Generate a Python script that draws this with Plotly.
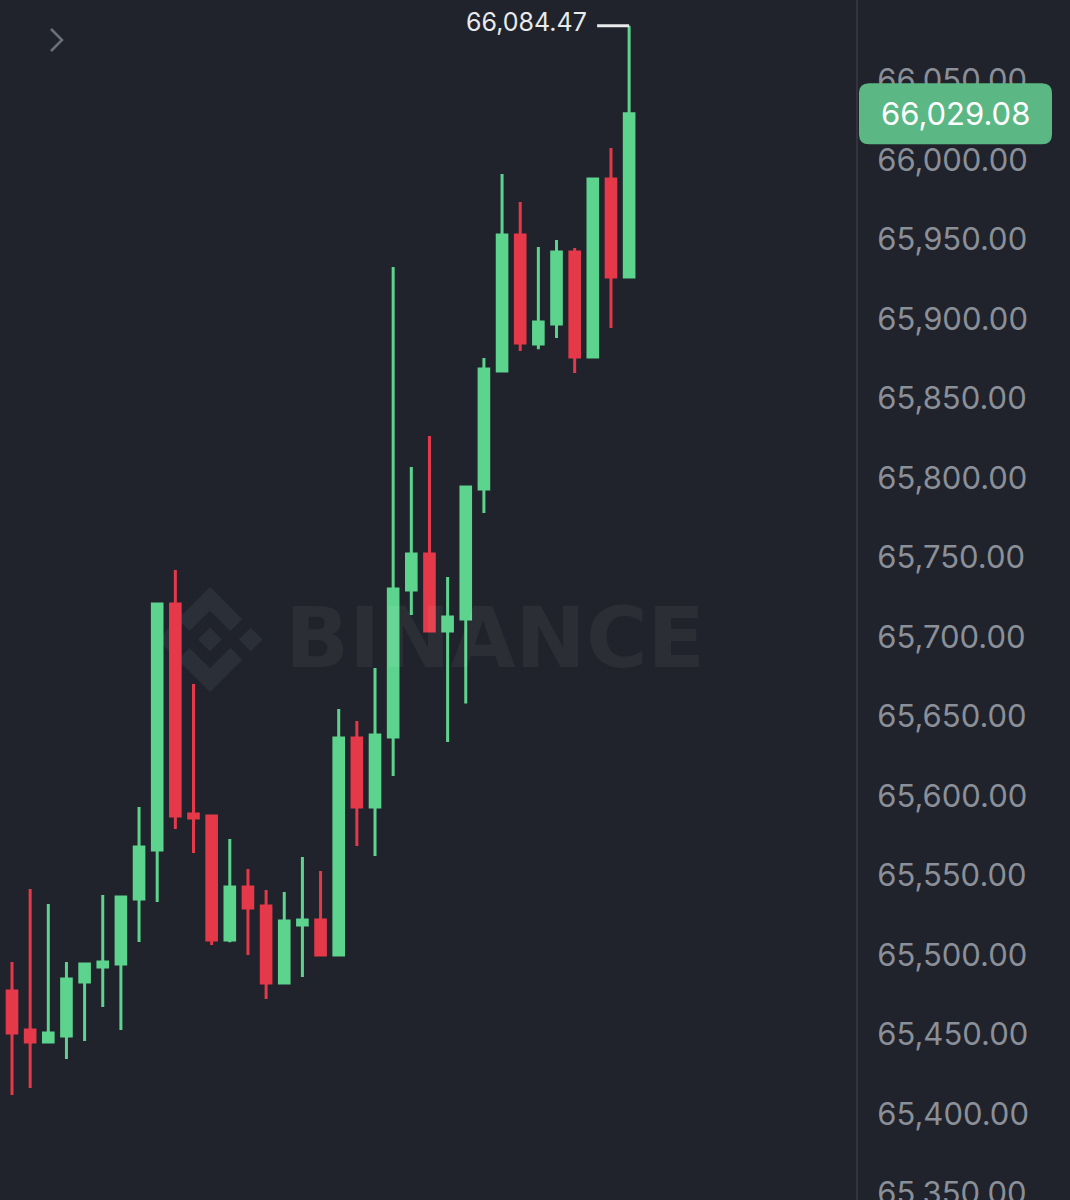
import plotly.graph_objects as go

# ---- data ----
candle_idx = list(range(35))
opens = [65477.4, 65452.8, 65445.3, 65449.1, 65483.0, 65492.5, 65494.3, 65535.2, 65566.0, 65720.8,
         65588.7, 65587.4, 65509.4, 65542.8, 65530.8, 65482.4, 65518.9, 65522.0, 65500.0, 65636.5,
         65593.1, 65637.1, 65729.6, 65752.2, 65703.8, 65711.3, 65793.1, 65867.3, 65952.8, 65884.3,
         65896.9, 65942.1, 65876.1, 65988.1, 65926.4]
highs = [65495.6, 65541.5, 65532.1, 65495.6, 65494.3, 65537.7, 65536.5, 65593.1, 65720.8, 65742.1,
         65670.4, 65587.4, 65573.0, 65554.1, 65540.9, 65539.6, 65561.6, 65552.8, 65654.7, 65647.2,
         65680.5, 65932.7, 65806.9, 65826.4, 65737.7, 65794.3, 65875.5, 65991.2, 65973.6, 65945.3,
         65949.7, 65944.7, 65988.1, 66007.5, 66084.47]
lows = [65411.9, 65416.4, 65445.0, 65434.6, 65445.9, 65467.3, 65452.8, 65508.2, 65533.3, 65579.2,
        65564.2, 65506.3, 65508.0, 65500.0, 65472.3, 65482.4, 65486.2, 65500.0, 65500.0, 65568.6,
        65562.3, 65612.6, 65713.8, 65703.8, 65634.0, 65658.2, 65778.0, 65867.3, 65879.9, 65881.0,
        65888.1, 65866.0, 65876.1, 65894.3, 65926.4]
closes = [65450.9, 65445.3, 65450.9, 65484.9, 65494.3, 65495.6, 65536.5, 65567.9, 65720.8, 65587.4,
          65586.2, 65509.4, 65542.8, 65529.6, 65482.4, 65521.4, 65522.0, 65500.0, 65636.5, 65593.1,
          65638.4, 65730.2, 65752.2, 65703.8, 65712.6, 65794.3, 65868.6, 65952.8, 65884.9, 65898.1,
          65942.1, 65876.1, 65988.1, 65926.4, 66029.08]

y_range = [65345.9, 66100.6]
y_tickvals = [65350, 65400, 65450, 65500, 65550, 65600, 65650, 65700, 65750, 65800,
              65850, 65900, 65950, 66000, 66050]

BG = "#20232b"
GREEN = "#5dd48e"
RED = "#e5394a"
BOX_GREEN = "#5bb884"
TICK_COLOR = "#8a8f98"
LOGO_COLOR = "#2b2f37"

fig = go.Figure()
fig.add_trace(go.Candlestick(
    x=candle_idx, open=opens, high=highs, low=lows, close=closes,
    increasing=dict(line=dict(color=GREEN, width=3), fillcolor=GREEN),
    decreasing=dict(line=dict(color=RED, width=3), fillcolor=RED),
    whiskerwidth=0, showlegend=False, hoverinfo="skip",
))

hi_val = max(highs)
hi_idx = highs.index(hi_val)
last_close = closes[-1]

# ---- watermark logo (Binance mark), drawn below candles ----
s = 0.83
def poly(pts):
    d = ""
    for k, (px, py) in enumerate(pts):
        X = (px - 63.3) * s
        Y = -(py - 63.3) * s
        d += ("M" if k == 0 else "L") + f"{X:.2f},{Y:.2f} "
    return d + "Z"

def diamond(cx, cy, h):
    return poly([(cx, cy - h), (cx + h, cy), (cx, cy + h), (cx - h, cy)])

logo_paths = [
    poly([(38.73, 53.2), (63.3, 28.64), (87.89, 53.22), (102.19, 38.92), (63.3, 0), (24.42, 38.9)]),
    poly([(38.73, 73.41), (63.3, 97.97), (87.89, 73.39), (102.19, 87.69), (63.3, 126.6), (24.42, 87.71)]),
    diamond(14.3, 63.3, 14.3),
    diamond(112.3, 63.3, 14.3),
    diamond(63.3, 63.3, 14.5),
]
for p in logo_paths:
    fig.add_shape(type="path", path=p, xref="paper", yref="paper",
                  xsizemode="pixel", ysizemode="pixel",
                  xanchor=210 / 856, yanchor=(1200 - 639.5) / 1200,
                  fillcolor=LOGO_COLOR, line=dict(width=0), layer="below")

fig.add_annotation(text="<b>BINANCE</b>", xref="paper", yref="paper",
                   x=495 / 856, y=(1200 - 637.5) / 1200, showarrow=False,
                   font=dict(family="DejaVu Sans", size=84, color="rgba(255,255,255,0.05)"))

# ---- chevron at top-left ----
fig.add_shape(type="path", path="M51,-29 L62,-40 L51,-51", xref="paper", yref="paper",
              xsizemode="pixel", ysizemode="pixel", xanchor=0, yanchor=1,
              line=dict(color="#6b707a", width=2.5))

# ---- highest price marker ----
fig.add_shape(type="line", xref="x", yref="y", xsizemode="pixel", xanchor=hi_idx,
              x0=-32, x1=0, y0=hi_val, y1=hi_val, line=dict(color="#e9eaec", width=3))
fig.add_annotation(text=f"{hi_val:,.2f}", x=hi_idx, y=hi_val, xref="x", yref="y",
                   xanchor="right", yanchor="middle", xshift=-40, yshift=4, showarrow=False,
                   font=dict(family="Inter", size=25, color="#e9eaec"))

# ---- last price tag ----
fig.add_shape(type="path", xref="paper", yref="y", xsizemode="pixel", ysizemode="pixel",
              xanchor=1, yanchor=last_close,
              path="M13,30.5 L186,30.5 Q196,30.5 196,20.5 L196,-20.5 Q196,-30.5 186,-30.5 "
                   "L13,-30.5 Q3,-30.5 3,-20.5 L3,20.5 Q3,30.5 13,30.5 Z",
              fillcolor=BOX_GREEN, line=dict(width=0), layer="above")
fig.add_annotation(text=f"{last_close:,.2f}", xref="paper", yref="y", x=1, y=last_close,
                   xanchor="center", yanchor="middle", xshift=99.5, showarrow=False,
                   font=dict(family="Inter", size=31, color="#ffffff"))

fig.update_layout(
    width=1070, height=1200,
    margin=dict(l=0, r=214, t=0, b=0, autoexpand=False),
    paper_bgcolor=BG, plot_bgcolor=BG,
    boxgap=0.47, boxgroupgap=0,
    showlegend=False,
    xaxis=dict(range=[-0.661, 46.5], showticklabels=False, showgrid=False, zeroline=False,
               showline=False, rangeslider=dict(visible=False), fixedrange=True, automargin=False),
    yaxis=dict(range=y_range, side="right", tickmode="array", tickvals=y_tickvals,
               tickformat=",.2f", automargin=False,
               showgrid=False, zeroline=False, showline=True, linecolor="#30343d", linewidth=2,
               ticks="", ticklabelstandoff=13, ticklabeloverflow="allow",
               tickfont=dict(family="Inter", size=31, color=TICK_COLOR), fixedrange=True),
)

fig.write_html("out.html", config={"displayModeBar": False},
               post_script="document.body.style.margin='0';")
